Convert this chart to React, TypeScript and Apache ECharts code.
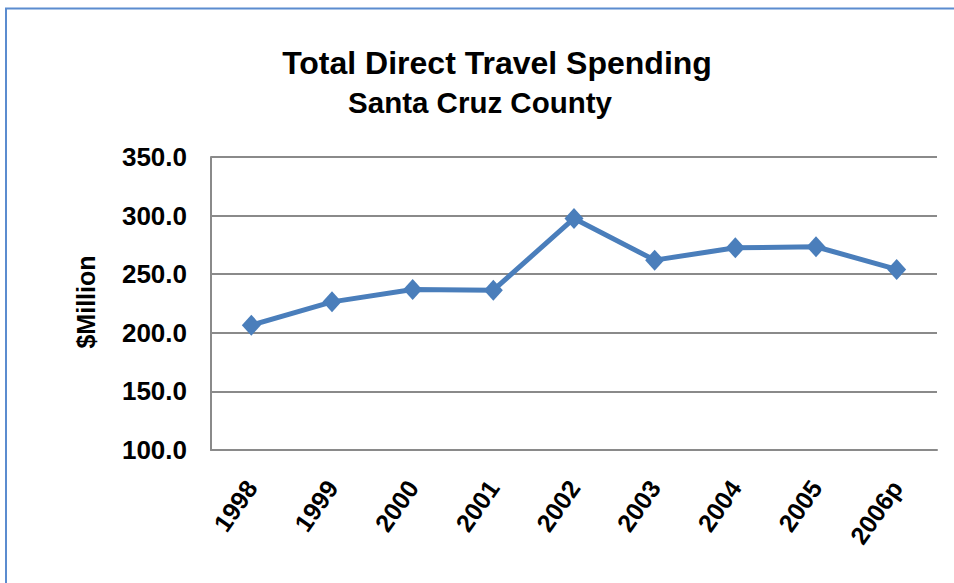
import React, { useEffect, useRef } from "react";
import * as echarts from "echarts";

const categories = ["1998", "1999", "2000", "2001", "2002", "2003", "2004", "2005", "2006p"];
const spending = [206.5, 226.4, 237.0, 236.4, 297.6, 262.0, 272.5, 273.4, 254.1];
const titleLines = ["Total Direct Travel Spending", "Santa Cruz County"];
const yAxisName = "$Million";

const FONT = "'Liberation Sans', Arial, sans-serif";

export default function App() {
  const ref = useRef<HTMLDivElement>(null);
  useEffect(() => {
    if (!ref.current) return;
    const chart = echarts.init(ref.current, null, { renderer: "svg" });
    chart.setOption({
      animation: false,
      backgroundColor: "#ffffff",
      grid: { left: 211, top: 157, right: 17, bottom: 133, containLabel: false },
      graphic: [
        {
          type: "rect",
          shape: { x: 6, y: 8.5, width: 1200, height: 1200 },
          style: { fill: "none", stroke: "#5b8ccf", lineWidth: 2 },
          silent: true,
        },
        {
          type: "text",
          x: 497,
          y: 63,
          style: {
            text: titleLines[0],
            font: `bold 32px ${FONT}`,
            fill: "#000",
            textAlign: "center",
            textVerticalAlign: "middle",
          },
        },
        {
          type: "text",
          x: 480,
          y: 102,
          style: {
            text: titleLines[1],
            font: `bold 29.5px ${FONT}`,
            fill: "#000",
            textAlign: "center",
            textVerticalAlign: "middle",
          },
        },
        {
          type: "text",
          x: 86,
          y: 302,
          rotation: Math.PI / 2,
          style: {
            text: yAxisName,
            font: `bold 25px ${FONT}`,
            fill: "#000",
            textAlign: "center",
            textVerticalAlign: "middle",
          },
        },
      ],
      xAxis: {
        type: "category",
        data: categories,
        boundaryGap: true,
        axisLine: { show: true, lineStyle: { color: "#8a8a8a", width: 2 } },
        axisTick: { show: false },
        axisLabel: {
          rotate: 55,
          margin: 33,
          color: "#000",
          fontFamily: FONT,
          fontWeight: "bold",
          fontSize: 25,
          interval: 0,
        },
        splitLine: { show: false },
      },
      yAxis: {
        type: "value",
        min: 100,
        max: 350,
        interval: 50,
        axisLine: { show: true, lineStyle: { color: "#8a8a8a", width: 2 } },
        axisTick: { show: false },
        axisLabel: {
          margin: 24,
          color: "#000",
          fontFamily: FONT,
          fontWeight: "bold",
          fontSize: 26,
          formatter: (v: number) => v.toFixed(1),
        },
        splitLine: { show: true, lineStyle: { color: "#8a8a8a", width: 2 } },
      },
      series: [
        {
          type: "line",
          data: spending,
          symbol: "diamond",
          symbolSize: [19, 21],
          lineStyle: { color: "#4a7ebb", width: 5 },
          itemStyle: { color: "#4a7ebb" },
        },
      ],
    });
    return () => chart.dispose();
  }, []);
  return (
    <div
      ref={ref}
      style={{ position: "fixed", left: 0, top: 0, width: 954, height: 583 }}
    />
  );
}
